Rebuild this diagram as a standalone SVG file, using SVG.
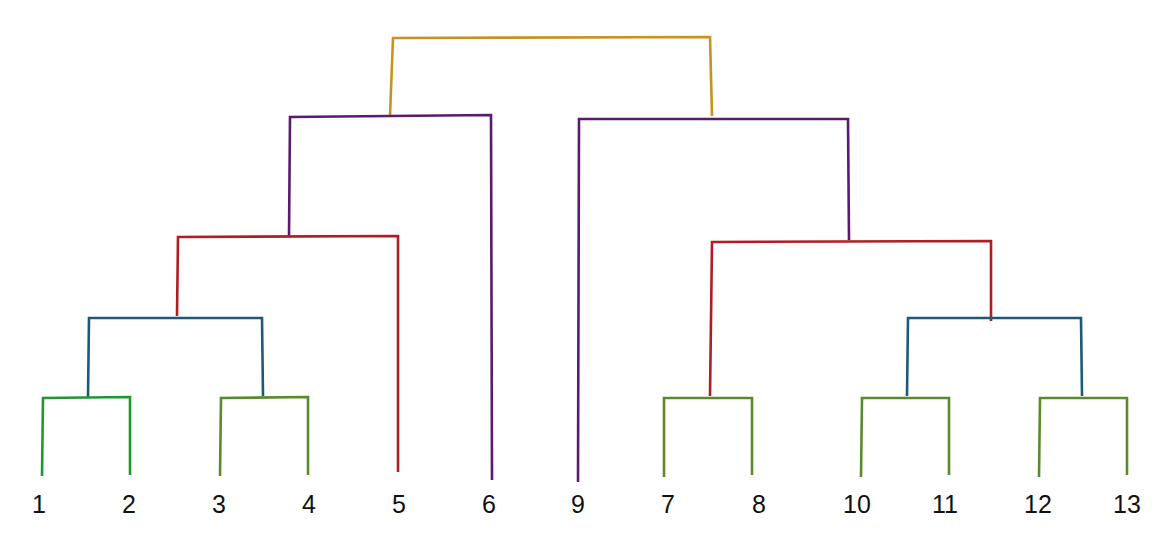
<svg xmlns="http://www.w3.org/2000/svg" width="1170" height="550" viewBox="0 0 1170 550">
<style>
.l{fill:none;stroke-width:2.6;stroke-linejoin:miter;stroke-linecap:butt}
.gold{stroke:#c8921f}.pur{stroke:#591a6f}.red{stroke:#b01d22}.blue{stroke:#1d5a78}.grn{stroke:#1f982f}.olv{stroke:#5a8b2a}
text{font-family:"Liberation Sans",Arial,sans-serif;font-size:25px;fill:#111;text-anchor:middle}
</style>
<rect width="1170" height="550" fill="#fff"/>
<g id="connectors">
<polyline class="l gold" points="390,116 393,38 710,37 712,116"/>
<polyline class="l pur" points="289,236 290,117 491,115 492,480"/>
<polyline class="l pur" points="578,482 579,119 848,119 849,240"/>
<polyline class="l red" points="177,316 178,237 398,236 398,472"/>
<polyline class="l red" points="710,396 712,242 991,241 991,321"/>
<polyline class="l blue" points="88,397 89,318 262,318 263,396"/>
<polyline class="l blue" points="907,396 908,318 1081,318 1082,396"/>
<polyline class="l grn" points="42,476 43,398 130,397 130,475"/>
<polyline class="l olv" points="220,476 221,398 308,397 308,475"/>
<polyline class="l olv" points="664,477 664,398 752,398 752,475"/>
<polyline class="l olv" points="861,477 862,398 949,398 949,475"/>
<polyline class="l olv" points="1039,477 1040,398 1127,398 1127,475"/>
</g>
<g id="leaf-1"><text x="39" y="513">1</text></g>
<g id="leaf-2"><text x="129" y="513">2</text></g>
<g id="leaf-3"><text x="219" y="513">3</text></g>
<g id="leaf-4"><text x="309" y="513">4</text></g>
<g id="leaf-5"><text x="399" y="513">5</text></g>
<g id="leaf-6"><text x="489" y="513">6</text></g>
<g id="leaf-9"><text x="578" y="513">9</text></g>
<g id="leaf-7"><text x="668" y="513">7</text></g>
<g id="leaf-8"><text x="759" y="513">8</text></g>
<g id="leaf-10"><text x="857" y="513">10</text></g>
<g id="leaf-11"><text x="945" y="513">11</text></g>
<g id="leaf-12"><text x="1038" y="513">12</text></g>
<g id="leaf-13"><text x="1127" y="513">13</text></g>
</svg>
